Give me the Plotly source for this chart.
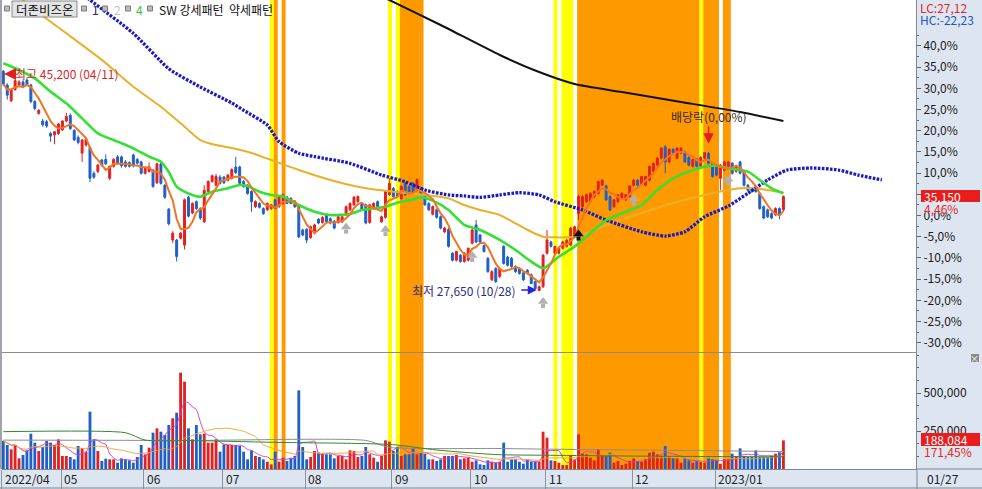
import pandas as pd
import plotly.graph_objects as go

# ------------------------------------------------------------------ data
STOCK_NAME = "더존비즈온"
HEADER_ITEMS = ["1", "2", "4", "SW 강세패턴\u00a0\u00a0약세패턴"]
PREV_CLOSE = 33650          # 0,0% reference (previous close)
LAST_DATE = "01/27"
HIGH_IDX, HIGH_PRICE, HIGH_TEXT = 0, 45200, "최고 45,200 (04/11)"
LOW_IDX, LOW_PRICE, LOW_TEXT = 136, 27650, "최저 27,650 (10/28)"
DIV_IDX, DIV_TEXT = 179, "배당락(0,00%)"

MONTH_START = [0, 15, 36, 56, 77, 99, 119, 138, 160, 181]
MONTH_LABEL = ["2022/04", "05", "06", "07", "08", "09", "10", "11", "12", "2023/01"]
PCT_TICKS = [-30, -25, -20, -15, -10, -5, 0, 5, 10, 15, 20, 25, 30, 35, 40]
PCT_HIDDEN = [5]            # label covered by the current-price box
VOL_TICKS = [250000, 500000]

OPEN = [
    45100, 44000, 42750, 43650, 44000, 44250, 44400, 44000, 42700, 41750,
    41150, 41100, 40150, 40050, 40150, 40450, 41150, 41600, 40400, 39850,
    38600, 39250, 39050, 37000, 37150, 38050, 38100, 36600, 37550, 38300,
    38300, 37900, 37850, 38450, 38100, 37900, 37000, 37150, 37250, 36250,
    37750, 36050, 34150, 31700, 31700, 31850, 31300, 35100, 33850, 34750,
    34200, 33150, 35550, 36350, 36050, 36700, 36700, 36450, 36600, 37500,
    37500, 36350, 36050, 35550, 34350, 34600, 34200, 34100, 34200, 34900,
    34350, 34600, 35100, 35000, 34750, 34350, 32500, 32550, 31900, 32250,
    33350, 33100, 33700, 33400, 33200, 33100, 33150, 33700, 34100, 34500,
    34750, 34600, 34500, 33100, 34200, 34750, 33150, 33500, 35300, 35800,
    35550, 35000, 36200, 35950, 36200, 35650, 35800, 35300, 34600, 33750,
    34100, 33550, 32350, 32550, 30650, 30100, 30500, 30000, 30100, 31450,
    32900, 32100, 31250, 30250, 28550, 29450, 28800, 31200, 30350, 30250,
    29600, 29450, 29100, 29300, 28950, 28400, 27700, 28000, 30650, 31550,
    30650, 30650, 31050, 31200, 31300, 31950, 33800, 34350, 34750, 34750,
    35150, 35400, 36050, 36000, 35150, 34350, 34750, 35000, 34900, 35150,
    36050, 36450, 36150, 36050, 36450, 37150, 37650, 38200, 39100, 37900,
    38900, 38200, 38600, 38700, 38250, 37550, 38100, 37550, 38200, 38600,
    37800, 37550, 36600, 37250, 37550, 37800, 37150, 37900, 37150, 36050,
    35800, 35950, 35400, 34350, 34100, 33800, 33700, 34200, 34100]
HIGH = [
    45200, 44150, 43750, 44450, 44400, 44450, 44550, 44100, 42800, 42100,
    41300, 41250, 40300, 40350, 41000, 41200, 41800, 41750, 40500, 40000,
    39700, 39800, 39150, 37150, 37750, 38150, 38500, 37600, 38200, 38450,
    38400, 38050, 37950, 38550, 38200, 38000, 37500, 37850, 37350, 37850,
    37850, 36150, 34250, 32400, 31800, 32350, 35000, 35200, 34700, 34850,
    34300, 36050, 36450, 36900, 36950, 36850, 36800, 36950, 37400, 38300,
    37600, 36450, 36150, 35650, 34850, 34700, 34300, 34700, 34550, 34950,
    35250, 35400, 35200, 35100, 34850, 34450, 32600, 32650, 32850, 33000,
    33450, 33600, 33800, 33500, 33300, 33650, 33650, 34450, 34700, 35200,
    35250, 34700, 34600, 34550, 34700, 34850, 33650, 35650, 36600, 35900,
    35650, 36050, 36300, 36050, 36300, 36600, 35900, 35400, 34700, 34450,
    34200, 33650, 32750, 32650, 30750, 30850, 30600, 30750, 31100, 32600,
    33300, 32200, 31350, 30350, 29300, 29550, 29550, 31300, 30450, 30350,
    29700, 29550, 29200, 29400, 29050, 28500, 28100, 30600, 32500, 31650,
    31250, 31100, 31650, 31800, 32750, 32850, 35300, 35250, 35400, 35500,
    35650, 36400, 36550, 36100, 35250, 34950, 35350, 35500, 35350, 36050,
    36550, 36550, 36800, 36800, 37600, 37850, 38300, 39100, 39250, 39000,
    39000, 39050, 39050, 38800, 38350, 38150, 38200, 38350, 38700, 38700,
    37900, 37650, 37750, 38000, 38000, 37900, 37600, 38000, 37250, 36150,
    35900, 36050, 35500, 34450, 34200, 33900, 34300, 34300, 35250]
LOW = [
    43950, 42850, 42650, 43550, 43900, 43750, 43900, 42550, 42000, 41650,
    40700, 40600, 39500, 39300, 40050, 40350, 41050, 40450, 39550, 39300,
    37900, 39100, 36300, 36550, 37000, 37550, 37650, 36450, 37450, 37700,
    37450, 37450, 37450, 37450, 37700, 36900, 36900, 37050, 35850, 36150,
    36100, 34950, 32850, 31450, 30000, 31750, 30950, 33500, 33750, 34100,
    33300, 33050, 35450, 36250, 35950, 36100, 36150, 36350, 36500, 36950,
    36100, 35850, 35300, 33950, 34250, 34200, 33700, 34000, 34100, 34150,
    34250, 34500, 34550, 34550, 34250, 31850, 32000, 31450, 31800, 32150,
    32950, 33000, 33100, 32950, 32550, 33000, 33050, 33600, 34000, 34400,
    34650, 34000, 32950, 33000, 34100, 34250, 33050, 33400, 35200, 35050,
    35050, 34900, 35200, 35300, 35300, 35550, 35300, 34400, 34000, 33650,
    33400, 32550, 32250, 31100, 30000, 30000, 29900, 29900, 30000, 31350,
    31450, 31450, 30700, 29100, 28450, 28300, 28700, 29750, 29600, 29500,
    29100, 28950, 28450, 28950, 28200, 27800, 27650, 27900, 30550, 31100,
    30550, 30550, 30950, 31100, 31200, 31850, 33300, 34250, 34650, 34650,
    35050, 35300, 35950, 34800, 34000, 34250, 34650, 34900, 34800, 35050,
    35950, 35950, 36050, 35950, 36350, 37050, 37550, 38100, 37000, 37800,
    38550, 38100, 38500, 37850, 37550, 37450, 37450, 37450, 38100, 37700,
    36650, 36750, 35650, 37150, 37450, 36900, 37050, 36900, 35950, 35550,
    35450, 35450, 34100, 33350, 33450, 33350, 33600, 33350, 34000]
CLOSE = [
    44100, 43200, 43650, 44350, 44250, 43850, 44000, 42700, 42150, 42000,
    40850, 40750, 39950, 40300, 40900, 41150, 41500, 40550, 39650, 39450,
    39650, 39700, 36600, 36700, 37650, 37650, 37750, 37550, 38100, 37800,
    37600, 37550, 37550, 37600, 37800, 37000, 37400, 37500, 35950, 37750,
    36200, 35100, 33000, 32250, 30400, 32250, 34900, 33600, 34600, 34200,
    33450, 35650, 36350, 36800, 36750, 36200, 36250, 36850, 37300, 37050,
    36200, 35950, 35400, 34750, 34750, 34300, 33800, 34600, 34500, 34200,
    35150, 35300, 34600, 34600, 34350, 31950, 32100, 31700, 32750, 32900,
    33050, 33500, 33150, 33050, 32650, 33550, 33550, 34350, 34600, 35100,
    35150, 34100, 33050, 34500, 34600, 34350, 33550, 35550, 36200, 35150,
    35150, 35950, 35300, 35400, 35400, 36500, 35400, 34500, 34100, 34350,
    33500, 32650, 32650, 31200, 30100, 30800, 30000, 30650, 31050, 32500,
    31550, 31550, 30800, 29200, 29200, 28400, 29450, 29850, 29700, 29600,
    29200, 29050, 28550, 29050, 28250, 27850, 28000, 30500, 31700, 31200,
    31200, 31050, 31550, 31700, 32650, 32750, 35150, 35150, 35300, 35400,
    35550, 36350, 36450, 34900, 34100, 34900, 35300, 35400, 35300, 36000,
    36450, 36050, 36750, 36750, 37550, 37800, 38200, 39000, 37900, 38900,
    38650, 39000, 39000, 37900, 37650, 38100, 37550, 38250, 38650, 37800,
    36750, 36850, 37650, 37900, 37900, 37000, 37550, 37000, 36050, 35650,
    35550, 35550, 34200, 33450, 33550, 33450, 34200, 33650, 35150]
VOLUME = [
    184200, 157900, 129400, 157900, 70200, 92100, 122800, 232500, 173200, 118400,
    144700, 184200, 173200, 157900, 195100, 85500, 85500, 78900, 63500, 151300,
    135900, 114000, 377200, 195100, 118400, 52600, 68000, 63500, 63500, 41600,
    70200, 63500, 57000, 41600, 78900, 157900, 96500, 140300, 239000, 267500,
    245600, 223700, 289500, 333300, 370600, 633800, 574600, 267500, 195100, 289500,
    228100, 232500, 173200, 173200, 195100, 114000, 162300, 157900, 157900, 157900,
    151300, 114000, 63500, 122800, 85500, 78900, 63500, 48000, 30500, 114000,
    48000, 74500, 52600, 70200, 85500, 517500, 144700, 63500, 78900, 118400,
    107500, 101000, 96500, 96500, 70200, 85500, 85500, 63500, 122800, 118400,
    78900, 85500, 144700, 96500, 74500, 48000, 85500, 188600, 179800, 118400,
    144700, 85500, 96500, 96500, 135900, 96500, 107500, 101000, 63500, 63500,
    52600, 63500, 85500, 85500, 85500, 92100, 63500, 70200, 74500, 48000,
    57000, 30700, 26300, 57000, 48000, 41600, 48000, 173200, 48000, 63500,
    63500, 48000, 35100, 63500, 48000, 48000, 48000, 245600, 206100, 57000,
    52600, 41600, 26300, 26300, 92100, 63500, 228100, 101000, 96500, 74500,
    57000, 129400, 85500, 85500, 107500, 41600, 52600, 26300, 35100, 52600,
    70200, 52600, 48000, 63500, 107500, 114000, 96500, 85500, 151300, 85500,
    70200, 70200, 41600, 74500, 57000, 41600, 52600, 48000, 41600, 74500,
    63500, 57000, 35100, 63500, 63500, 101000, 85500, 135900, 85500, 78900,
    78900, 122800, 78900, 78900, 78900, 85500, 101000, 109700, 188084]

# moving averages (index, price)
MA20_IDX = [0, 4, 8, 12, 16, 20, 24, 29, 33, 37, 40, 42, 44, 47, 50, 53, 57, 60, 62, 65,
            68, 71, 75, 79, 83, 88, 91, 94, 97, 100, 104, 106, 109, 113, 117, 121, 126,
            130, 134, 137, 141, 145, 149, 153, 157, 162, 166, 170, 174, 178, 181, 184,
            187, 189, 192, 195, 198]
MA20_VAL = [45730, 45200, 44530, 43480, 42550, 41360, 40170, 39510, 38980, 38320, 37920,
            37100, 35940, 35400, 35140, 35540, 35810, 36070, 35990, 35540, 35280, 35150,
            34480, 33950, 33690, 33770, 34090, 34220, 34350, 34670, 34930, 35090, 34830,
            34090, 32900, 32500, 31710, 30910, 29990, 29460, 30380, 31180, 32240, 33290,
            33820, 34480, 35670, 36600, 37130, 37530, 37600, 37390, 37260, 37130, 36470,
            35810, 35410]
MA60_IDX = [4, 9, 16, 25, 33, 40, 46, 50, 54, 58, 63, 68, 75, 83, 92, 99, 107, 113, 117,
            121, 126, 130, 134, 137, 140, 143, 146, 153, 162, 170, 178, 187, 191, 195, 198]
MA60_VAL = [51000, 49720, 48110, 46000, 43870, 42280, 40700, 39640, 39240, 39010, 38610,
            38050, 37260, 36470, 35810, 35540, 35280, 35010, 34480, 34090, 33690, 33030,
            32360, 31970, 31920, 31920, 31970, 32900, 33850, 34640, 35280, 35810, 35810,
            35620, 35460]
MA120_IDX = [19, 22, 33, 42, 50, 58, 61, 67, 70, 75, 79, 88, 96, 102, 107, 113, 117, 121,
             126, 131, 136, 140, 147, 153, 162, 168, 173, 178, 184, 189, 194, 199, 205, 212,
             217, 223]
MA120_VAL = [51500, 50750, 48110, 45300, 43850, 42580, 42000, 40830, 39510, 38590, 38320,
             37790, 36860, 36330, 35670, 35280, 35200, 35090, 35280, 35460, 35280, 34740,
             34090, 33290, 32360, 32020, 32360, 33550, 34400, 35410, 36470, 37260, 37420,
             37260, 36860, 36470]
MA240_IDX = [92, 98, 111, 126, 136, 145, 157, 172, 187, 198]
MA240_VAL = [51600, 50750, 48770, 46390, 45040, 44090, 43450, 42660, 41860, 41150]

VMA60_IDX = [0, 31, 36, 48, 70, 90, 99, 110, 125, 140, 160, 180, 198]
VMA60_VAL = [245600, 239000, 190000, 187000, 175000, 168000, 160000, 125000, 95000, 90000,
             85000, 82000, 80000]
VMA120_IDX = [0, 48, 92, 98, 125, 140, 160, 180, 198]
VMA120_VAL = [190000, 188000, 188000, 142000, 135000, 130000, 125000, 120000, 115000]

SIGNAL_IDX = [87, 97, 119, 137, 160, 184]
SIGNAL_PRICE = [32650, 32450, 30400, 26750, 34900, 36450]
BUY_IDX = [146]
BUY_PRICE = [32100]

BAND_YELLOW = [(68, 68), (98, 98), (100, 100), (140, 140), (142, 144), (177, 177)]
BAND_ORANGE = [(69, 69), (71, 71), (101, 106), (146, 176), (178, 181), (183, 184)]

# ------------------------------------------------------------------ style / geometry
FONT = "Noto Sans CJK KR, Noto Sans, sans-serif"
RED, BLUE = "#e3201e", "#1f5fc8"
PANEL = "#dce5f0"
W, H = 982, 489
ML, MR, MT, MB = 2, 66, 0, 20
PW, PH = W - ML - MR, H - MT - MB
PX_PER_BAR = 3.94
PX_PER_PCT = 4.24
ZERO_PY = 215.5
MAIN_BOTTOM_PY, VOL_TOP_PY = 352, 353
VOL_PER_PX = 6579
PRICE_PER_PX = PREV_CLOSE / 100.0 / PX_PER_PCT


def fx(px):
    return (px - ML) / PW


def fy(py):
    return (MT + PH - py) / PH


def pct_to_price(p):
    return PREV_CLOSE * (1 + p / 100.0)


idx = list(range(len(CLOSE)))
x0 = -0.33
x_range = [x0, x0 + PW / PX_PER_BAR]
y_range = [pct_to_price(-(MAIN_BOTTOM_PY - ZERO_PY) / PX_PER_PCT),
           pct_to_price(ZERO_PY / PX_PER_PCT)]
v_range = [0, (MT + PH - VOL_TOP_PY) * VOL_PER_PX]

ma5 = pd.Series(CLOSE).rolling(5, min_periods=1).mean()
vma5 = pd.Series(VOLUME).rolling(5, min_periods=1).mean()
vma20 = pd.Series(VOLUME).rolling(20, min_periods=1).mean()
vol_colors = [RED if c >= o else BLUE for o, c in zip(OPEN, CLOSE)]

fig = go.Figure()

# volume panel
fig.add_trace(go.Bar(x=idx, y=VOLUME, marker=dict(color=vol_colors, line=dict(width=0)),
                     width=0.72, yaxis="y2", hoverinfo="skip"))
for xs, ys, col in [(idx, vma5, "#d23cd2"), (idx, vma20, "#f0a428"),
                    (VMA120_IDX, VMA120_VAL, "#8c8c8c"), (VMA60_IDX, VMA60_VAL, "#2c8a2c")]:
    fig.add_trace(go.Scatter(x=xs, y=ys, mode="lines", yaxis="y2", hoverinfo="skip",
                             line=dict(color=col, width=1, shape="spline", smoothing=0.6)))

# price panel lines
fig.add_trace(go.Scatter(x=MA240_IDX, y=MA240_VAL, mode="lines", hoverinfo="skip",
                         line=dict(color="#111111", width=2, shape="spline", smoothing=0.6)))
fig.add_trace(go.Scatter(x=MA60_IDX, y=MA60_VAL, mode="lines", hoverinfo="skip",
                         line=dict(color="#eab02c", width=2, shape="spline", smoothing=0.6)))
fig.add_trace(go.Scatter(x=MA120_IDX, y=MA120_VAL, mode="lines", hoverinfo="skip",
                         line=dict(color="#1a1ac4", width=3.3, dash="2.6px,1.4px",
                                   shape="spline", smoothing=0.6)))
fig.add_trace(go.Scatter(x=MA20_IDX, y=MA20_VAL, mode="lines", hoverinfo="skip",
                         line=dict(color="#34e034", width=2.6, shape="spline", smoothing=0.6)))
fig.add_trace(go.Scatter(x=idx, y=ma5, mode="lines", hoverinfo="skip",
                         line=dict(color="#f07424", width=2)))

fig.add_trace(go.Candlestick(
    x=idx, open=OPEN, high=HIGH, low=LOW, close=CLOSE, whiskerwidth=0,
    increasing=dict(line=dict(color=RED, width=1), fillcolor=RED),
    decreasing=dict(line=dict(color=BLUE, width=1), fillcolor=BLUE),
    hoverinfo="skip"))

# signal arrows: triangular head + short stem below it
for xs, ys, col in [(SIGNAL_IDX, SIGNAL_PRICE, "#b0b0b0"), (BUY_IDX, BUY_PRICE, "#111111")]:
    fig.add_trace(go.Scatter(x=xs, y=[p - 3.5 * PRICE_PER_PX for p in ys], mode="markers",
                             hoverinfo="skip",
                             marker=dict(symbol="square", size=4, color=col, line=dict(width=0))))
    fig.add_trace(go.Scatter(x=xs, y=[p + 1 * PRICE_PER_PX for p in ys], mode="markers",
                             hoverinfo="skip",
                             marker=dict(symbol="triangle-up", size=9, color=col,
                                         line=dict(width=0))))

# ------------------------------------------------------------------ shapes
shapes = []
for s, e in BAND_YELLOW:
    shapes.append(dict(type="rect", xref="x", yref="paper", x0=s - 0.35, x1=e + 0.65,
                       y0=0, y1=1, fillcolor="#ffff00", line=dict(width=0), layer="below"))
for s, e in BAND_ORANGE:
    shapes.append(dict(type="rect", xref="x", yref="paper", x0=s - 0.35, x1=e + 0.65,
                       y0=0, y1=1, fillcolor="#ff9900", line=dict(width=0), layer="below"))


def rect_px(x0p, y0p, x1p, y1p, fill, line=None, layer="above"):
    return dict(type="rect", xref="paper", yref="paper", x0=fx(x0p), x1=fx(x1p),
                y0=fy(y1p), y1=fy(y0p), fillcolor=fill, layer=layer,
                line=dict(width=0) if line is None else dict(color=line, width=1))


def line_px(x0p, y0p, x1p, y1p, color, width=1):
    return dict(type="line", xref="paper", yref="paper", x0=fx(x0p), x1=fx(x1p),
                y0=fy(y0p), y1=fy(y1p), line=dict(color=color, width=width), layer="above")


shapes += [
    line_px(ML, 352.5, 917, 352.5, "#8c8c8c"),
    line_px(0, 488, W, 488, "#7c8794"),
    line_px(917, 469, 917, 489, "#7c8794"),
    line_px(917, 469, W, 469, "#7c8794"),
    rect_px(0, 0, 2, 469, "#a0a4aa"),
    rect_px(12, 1, 77, 17, "#e4e4e4", "#8a8a8a"),
    rect_px(921, 190, 980, 202, "#e81e1e"),
    rect_px(919, 203.5, 980, 212.5, PANEL),
    rect_px(921, 433, 980, 446, "#e81e1e"),
    rect_px(971, 354, 979, 362, "#8a8a8a"),
]
for cx in [7, 84, 105, 128, 150]:
    shapes.append(rect_px(cx - 2.5, 6, cx + 2.5, 11, "#bcbcbc", "#7a7a7a"))

# ------------------------------------------------------------------ annotations
def text_px(xp, yp, text, color, size=12, anchor="left"):
    return dict(xref="paper", yref="paper", x=fx(xp), y=fy(yp), text=text, showarrow=False,
                xanchor=anchor, yanchor="middle", font=dict(family=FONT, size=size, color=color))


last = CLOSE[-1]
chg = (last / PREV_CLOSE - 1) * 100
lc = (last / min(LOW) - 1) * 100
hc = (last / max(HIGH) - 1) * 100
comma = lambda v, d: f"{v:.{d}f}".replace(".", ",")

ann = [
    text_px(44.5, 9, STOCK_NAME, "#111111", 12.5, "center"),
    text_px(90, 9, HEADER_ITEMS[0], "#22225c"),
    text_px(112, 9, HEADER_ITEMS[1], "#c4c4c4"),
    text_px(134, 9, HEADER_ITEMS[2], "#2ec22e"),
    text_px(157, 9, HEADER_ITEMS[3], "#111111"),
    text_px(918, 7, f"LC:{comma(lc, 2)}", "#e02828"),
    text_px(918, 20, f"HC:{comma(hc, 2)}", "#2058c0"),
    text_px(922, 196, f"{last:,}", "#ffffff"),
    text_px(922, 208.5, f"{comma(chg, 2)}%", "#e02828"),
    text_px(922, 439.5, f"{VOLUME[-1]:,}", "#ffffff"),
    text_px(922, 451, f"{comma(VOLUME[-1] / VOLUME[-2] * 100, 2)}%", "#e02828"),
    text_px(925, 478.5, LAST_DATE, "#222222"),
    text_px(975, 358, "×", "#ffffff", 9, "center"),
]
for m, lab in zip(MONTH_START, MONTH_LABEL):
    ann.append(dict(xref="x", yref="paper", x=max(m - 0.35, x0 + 0.05), y=fy(478.5),
                    xshift=1, text=lab, showarrow=False, xanchor="left", yanchor="middle",
                    font=dict(family=FONT, size=12, color="#222222")))

# high / low / dividend markers
ann += [
    dict(xref="x", yref="y", x=HIGH_IDX + 0.2, y=HIGH_PRICE, yshift=-4, text="",
         showarrow=True, ax=10, ay=0, arrowhead=2, arrowsize=1.5, arrowwidth=1.6,
         arrowcolor="#e02020"),
    dict(xref="x", yref="y", x=HIGH_IDX, y=HIGH_PRICE, yshift=-4, xshift=10, text=HIGH_TEXT,
         showarrow=False, xanchor="left", yanchor="middle",
         font=dict(family=FONT, size=12, color="#d42a2a")),
    dict(xref="x", yref="y", x=LOW_IDX - 0.6, y=LOW_PRICE, yshift=1, text="",
         showarrow=True, ax=-17, ay=0, arrowhead=2, arrowsize=1.2, arrowwidth=1.5,
         arrowcolor="#1e28d8"),
    dict(xref="x", yref="y", x=LOW_IDX - 0.6, y=LOW_PRICE, yshift=1, xshift=-19,
         text=LOW_TEXT, showarrow=False, xanchor="right", yanchor="middle",
         font=dict(family=FONT, size=12, color="#2c2c84")),
    dict(xref="x", yref="y", x=DIV_IDX, y=HIGH[DIV_IDX], yshift=8, text="",
         showarrow=True, ax=0, ay=-19, arrowhead=2, arrowsize=1.4, arrowwidth=1.5,
         arrowcolor="#e02020"),
    dict(xref="x", yref="y", x=DIV_IDX, y=HIGH[DIV_IDX], yshift=35, text=DIV_TEXT,
         showarrow=False, xanchor="center", yanchor="middle",
         font=dict(family=FONT, size=12, color="#3a2a2a")),
]

# ------------------------------------------------------------------ layout
pct_minor = [p + 2.5 for p in PCT_TICKS]
fig.update_layout(
    width=W, height=H, autosize=False,
    margin=dict(l=ML, r=MR, t=MT, b=MB, pad=0),
    paper_bgcolor=PANEL, plot_bgcolor="#ffffff",
    showlegend=False, hovermode=False,
    font=dict(family=FONT, size=12, color="#1a1a1a"),
    xaxis=dict(range=x_range, anchor="y2", showgrid=False, zeroline=False,
               showline=True, linecolor="#7c8794", ticks="outside", ticklen=19,
               tickcolor="#8a96a4", tickvals=[m - 0.35 for m in MONTH_START],
               showticklabels=False, rangeslider=dict(visible=False), fixedrange=True),
    yaxis=dict(domain=[(MT + PH - MAIN_BOTTOM_PY) / PH, 1], range=y_range, side="right",
               anchor="x", showgrid=False, zeroline=False, showline=True,
               linecolor="#7c8794", ticks="outside", ticklen=4, tickcolor="#5c6670",
               tickvals=[pct_to_price(p) for p in PCT_TICKS],
               ticktext=["" if p in PCT_HIDDEN else comma(p, 1) + "%" for p in PCT_TICKS],
               tickfont=dict(family=FONT, size=12, color="#1a1a1a"),
               minor=dict(tickmode="array", tickvals=[pct_to_price(p) for p in pct_minor],
                          ticks="outside", ticklen=2, tickcolor="#5c6670"),
               fixedrange=True),
    yaxis2=dict(domain=[0, (MT + PH - VOL_TOP_PY) / PH], range=v_range, side="right",
                anchor="x", showgrid=False, zeroline=False, showline=True,
                linecolor="#7c8794", ticks="outside", ticklen=4, tickcolor="#5c6670",
                tickvals=VOL_TICKS, ticktext=[f"{v:,}" for v in VOL_TICKS],
                tickfont=dict(family=FONT, size=12, color="#1a1a1a"),
                minor=dict(tickmode="array",
                           tickvals=[v * k / 3 for v in [250000] for k in range(1, 10)],
                           ticks="outside", ticklen=2, tickcolor="#5c6670"),
                fixedrange=True),
    shapes=shapes,
    annotations=ann,
)

fig.write_html("out.html", config=dict(displayModeBar=False),
               post_script="document.body.style.margin='0';")
